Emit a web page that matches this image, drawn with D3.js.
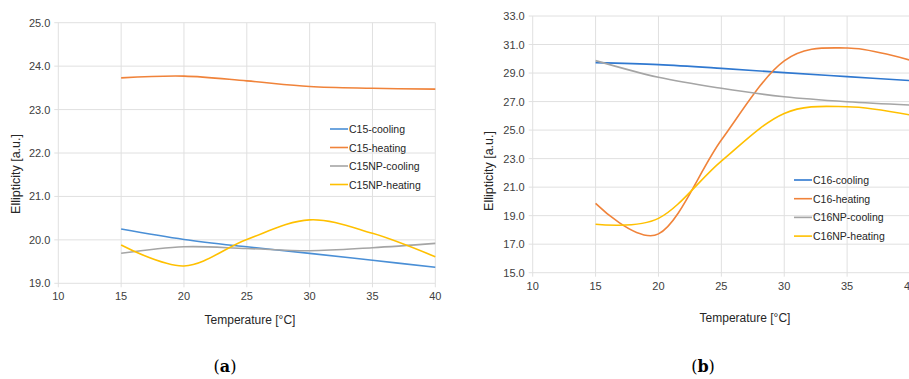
<!DOCTYPE html>
<html><head><meta charset="utf-8">
<script src="https://cdn.jsdelivr.net/npm/d3@7"></script>
<style>body{margin:0;background:#fff;} svg{display:block;}</style>
</head><body>
<svg id="c" width="909" height="379"></svg>
<script>
const temps = [15, 20, 25, 30, 35, 40];
const xTicks = [10, 15, 20, 25, 30, 35, 40];

const seriesA = ["C15-cooling", "C15-heating", "C15NP-cooling", "C15NP-heating"];
const c15Cooling   = [20.25, 20.01, 19.84, 19.69, 19.53, 19.37];
const c15Heating   = [23.73, 23.77, 23.66, 23.53, 23.49, 23.47];
const c15npCooling = [19.69, 19.84, 19.80, 19.75, 19.82, 19.92];
const c15npHeating = [19.88, 19.40, 20.01, 20.46, 20.15, 19.61];
const yTicksA = [19, 20, 21, 22, 23, 24, 25];

const seriesB = ["C16-cooling", "C16-heating", "C16NP-cooling", "C16NP-heating"];
const c16Cooling   = [29.73, 29.59, 29.33, 29.03, 28.75, 28.47];
const c16Heating   = [19.86, 17.72, 24.30, 29.85, 30.76, 29.90];
const c16npCooling = [29.87, 28.70, 27.93, 27.34, 26.99, 26.76];
const c16npHeating = [18.40, 18.81, 22.83, 26.17, 26.64, 26.06];
const yTicksB = [15, 17, 19, 21, 23, 25, 27, 29, 31, 33];

const colorsA = ["#4a8fd6", "#f0833a", "#a5a5a5", "#ffc000"];
const colorsB = ["#2f78d0", "#f0833a", "#a5a5a5", "#ffc000"];

const svg = d3.select("#c");
const FONT = "'Liberation Sans', Arial, sans-serif";

function drawChart(o) {
  const x = d3.scaleLinear().domain([10, 40]).range([o.x0, o.x1]);
  const y = d3.scaleLinear().domain([o.yMin, o.yMax]).range([o.y1, o.y0]);
  const g = svg.append("g");
  g.selectAll("line.h").data(o.yTicks).join("line")
    .attr("x1", x(10) - 4).attr("x2", x(40))
    .attr("y1", d => y(d)).attr("y2", d => y(d))
    .attr("stroke", "#e0e0e0").attr("stroke-width", 1);
  g.selectAll("line.v").data(xTicks).join("line")
    .attr("x1", d => x(d)).attr("x2", d => x(d))
    .attr("y1", y(o.yMax)).attr("y2", y(o.yMin) + 4)
    .attr("stroke", "#e0e0e0").attr("stroke-width", 1);
  g.selectAll("text.yt").data(o.yTicks).join("text")
    .attr("x", x(10) - 8).attr("y", d => y(d) + 4)
    .attr("text-anchor", "end").attr("font-family", FONT).attr("font-size", 11)
    .attr("fill", "#404040").text(d => d3.format(".1f")(d));
  g.selectAll("text.xt").data(xTicks).join("text")
    .attr("x", d => x(d)).attr("y", y(o.yMin) + 17)
    .attr("text-anchor", "middle").attr("font-family", FONT).attr("font-size", 11)
    .attr("fill", "#404040").text(d => d);
  g.append("text").attr("x", o.xTitleX).attr("y", o.xTitleY)
    .attr("text-anchor", "middle").attr("font-family", FONT).attr("font-size", 12)
    .attr("fill", "#262626").text("Temperature [°C]");
  g.append("text").attr("transform", `translate(${o.yTitleX},${o.yTitleY}) rotate(-90)`)
    .attr("text-anchor", "middle").attr("font-family", FONT).attr("font-size", 12.5)
    .attr("fill", "#262626").text("Ellipticity [a.u.]");
  const line = d3.line().x((d, i) => x(temps[i])).y(d => y(d)).curve(d3.curveCatmullRom.alpha(0));
  o.data.forEach((vals, i) => {
    g.append("path").attr("d", line(vals)).attr("fill", "none")
      .attr("stroke", o.colors[i]).attr("stroke-width", 1.6);
  });
  o.names.forEach((n, i) => {
    const ly = o.legY + i * o.legStep;
    g.append("line").attr("x1", o.legX).attr("x2", o.legX + 18).attr("y1", ly).attr("y2", ly)
      .attr("stroke", o.colors[i]).attr("stroke-width", 1.6);
    g.append("text").attr("x", o.legX + 19).attr("y", ly + 4)
      .attr("font-family", FONT).attr("font-size", 10.5).attr("fill", "#262626").text(n);
  });
}

drawChart({
  x0: 58.3, x1: 435.3, y0: 22.7, y1: 283.3, yMin: 19, yMax: 25, yTicks: yTicksA,
  data: [c15Cooling, c15Heating, c15npCooling, c15npHeating], names: seriesA, colors: colorsA,
  xTitleX: 250, xTitleY: 324, yTitleX: 20, yTitleY: 174,
  legX: 330, legY: 129, legStep: 18.5
});
drawChart({
  x0: 532.7, x1: 910, y0: 16, y1: 272.7, yMin: 15, yMax: 33, yTicks: yTicksB,
  data: [c16Cooling, c16Heating, c16npCooling, c16npHeating], names: seriesB, colors: colorsB,
  xTitleX: 745, xTitleY: 322, yTitleX: 493, yTitleY: 171,
  legX: 794, legY: 180, legStep: 18.7
});

const cap = [{x: 225, l: "a"}, {x: 703, l: "b"}];
cap.forEach(c => {
  const t = svg.append("text").attr("x", c.x).attr("y", 372).attr("text-anchor", "middle")
    .attr("font-family", "'DejaVu Serif', 'Liberation Serif', serif").attr("font-size", 16).attr("fill", "#000");
  t.append("tspan").text("(");
  t.append("tspan").attr("font-weight", "bold").text(c.l);
  t.append("tspan").text(")");
});
</script>
</body></html>
